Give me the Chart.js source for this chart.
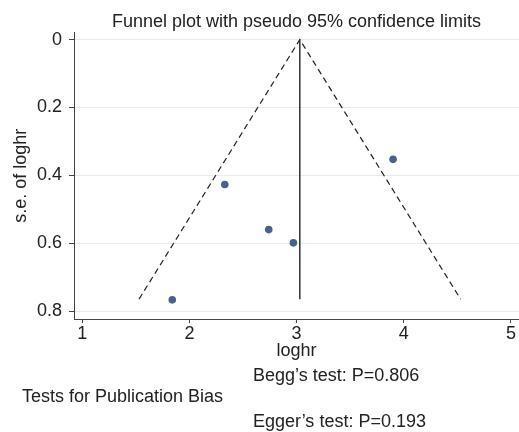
<!DOCTYPE html>
<html>
<head>
<meta charset="utf-8">
<script src="https://cdn.jsdelivr.net/npm/chart.js@4"></script>
<style>
  html, body { margin: 0; padding: 0; background: #fff; }
  #wrap { width: 519px; height: 432px; }
</style>
</head>
<body>
<div id="wrap"><canvas id="myChart" width="519" height="432"></canvas></div>
<script>
// study estimates
const studyLoghr = [2.33, 2.74, 2.97, 3.90, 1.84];
const studySe = [0.427, 0.560, 0.599, 0.353, 0.767];

// pseudo 95% confidence limits (left end, apex, right end)
const funnelX = [1.53, 3.03, 4.53];
const funnelY = [0.765, 0, 0.765];

// pooled estimate line
const pooledX = [3.03, 3.03];
const pooledY = [0, 0.765];

const xTicks = [1, 2, 3, 4, 5];
const yTicks = [0, 0.2, 0.4, 0.6, 0.8];

const titleText = "Funnel plot with pseudo 95% confidence limits";
const xTitle = "loghr";
const yTitle = "s.e. of loghr";
const noteTexts = ["Begg\u2019s test: P=0.806", "Tests for Publication Bias", "Egger\u2019s test: P=0.193"];

const FONT = "'Liberation Sans', Arial, Helvetica, sans-serif";
const TEXT = "#222";
const AXIS = "#444";

const toPoints = (xs, ys) => xs.map((x, i) => ({ x: x, y: ys[i] }));

// extra notes under the x axis
const notesPlugin = {
  id: "notes",
  afterDraw(chart) {
    const ctx = chart.ctx;
    ctx.save();
    ctx.font = "18px " + FONT;
    ctx.fillStyle = TEXT;
    ctx.textAlign = "left";
    ctx.textBaseline = "alphabetic";
    ctx.fillText(noteTexts[0], 253, 381);
    ctx.fillText(noteTexts[1], 22, 402);
    ctx.fillText(noteTexts[2], 253, 427);
    ctx.restore();
  },
};

const ctx = document.getElementById("myChart").getContext("2d");
new Chart(ctx, {
  type: "scatter",
  data: {
    datasets: [
      {
        label: "studies",
        data: toPoints(studyLoghr, studySe),
        backgroundColor: "#48628a",
        borderWidth: 0,
        pointRadius: 3.8,
      },
      {
        label: "limits",
        data: toPoints(funnelX, funnelY),
        showLine: true,
        borderColor: "#222",
        borderWidth: 1.2,
        borderDash: [6, 4],
        pointRadius: 0,
      },
      {
        label: "pooled",
        data: toPoints(pooledX, pooledY),
        showLine: true,
        borderColor: "#222",
        borderWidth: 1.4,
        pointRadius: 0,
      },
    ],
  },
  options: {
    responsive: false,
    animation: false,
    layout: { padding: 0, autoPadding: false },
    plugins: {
      legend: { display: false },
      tooltip: { enabled: false },
      title: {
        display: true,
        text: titleText,
        fullSize: false,
        color: TEXT,
        font: { size: 18, family: FONT, weight: "normal" },
        padding: { top: 11, bottom: 0 },
      },
    },
    scales: {
      x: {
        type: "linear",
        min: 0.923,
        max: 5.075,
        afterBuildTicks: (s) => { s.ticks = xTicks.map((v) => ({ value: v })); },
        afterFit: (s) => { s.height = 113; s.paddingLeft = 0; s.paddingRight = 0; },
        ticks: {
          color: TEXT,
          padding: 0,
          font: { size: 18, family: FONT },
        },
        grid: {
          drawOnChartArea: false,
          drawTicks: true,
          tickLength: 4,
          tickColor: AXIS,
        },
        border: { display: true, color: AXIS, width: 1 },
        title: {
          display: true,
          text: xTitle,
          color: TEXT,
          font: { size: 18, family: FONT },
          padding: { top: 0, bottom: 70 },
        },
      },
      y: {
        type: "linear",
        reverse: true,
        min: -0.0206,
        max: 0.8235,
        afterBuildTicks: (s) => { s.ticks = yTicks.map((v) => ({ value: v })); },
        afterFit: (s) => { s.width = 74; s.paddingTop = 0; s.paddingBottom = 0; },
        ticks: {
          color: TEXT,
          padding: 7,
          font: { size: 18, family: FONT },
          callback: (v) => String(v),
        },
        grid: {
          color: "#e3ecf2",
          lineWidth: 1,
          drawTicks: true,
          tickLength: 5,
          tickColor: AXIS,
        },
        border: { display: true, color: AXIS, width: 1 },
        title: {
          display: true,
          text: yTitle,
          color: TEXT,
          font: { size: 18, family: FONT },
          padding: { top: 10, bottom: 0 },
        },
      },
    },
  },
  plugins: [notesPlugin],
});
</script>
</body>
</html>
